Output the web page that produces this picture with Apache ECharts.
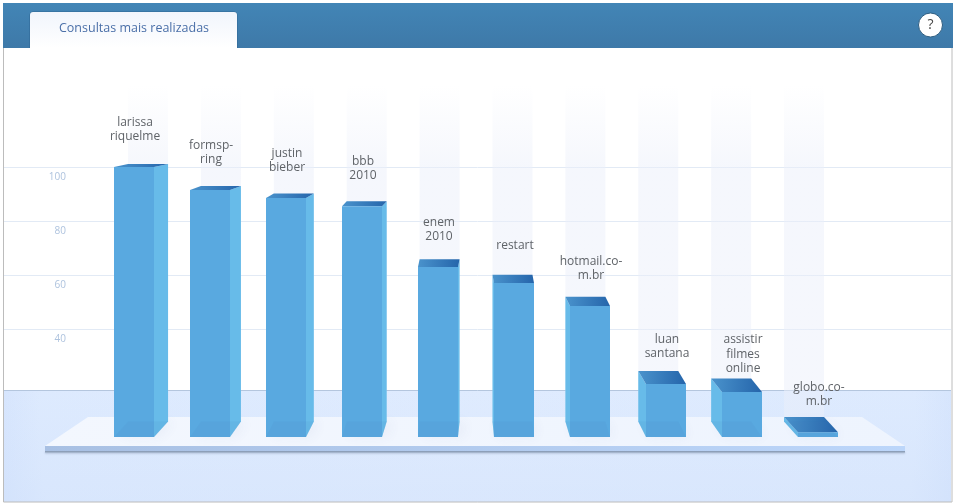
<!DOCTYPE html>
<html>
<head>
<meta charset="utf-8">
<style>html,body{margin:0;padding:0;background:#fff}#c{width:954px;height:503px}</style>
<script src="https://cdn.jsdelivr.net/npm/echarts@6/dist/echarts.min.js"></script>
</head>
<body>
<div id="c"></div>
<script>
const categories = ['larissa\nriquelme','formsp-\nring','justin\nbieber','bbb\n2010','enem\n2010','restart','hotmail.co-\nm.br','luan\nsantana','assistir\nfilmes\nonline','globo.co-\nm.br'];
const values = [100, 91.5, 88.5, 85.5, 63, 57, 48.5, 19.6, 16.7, 1.8];
const title = 'Consultas mais realizadas';
const tickMin = 40, tickMax = 100, tickStep = 20;

const FONT = '"Open Sans", sans-serif';
const chart = echarts.init(document.getElementById('c'), null, {renderer:'canvas'});
const vanishX = 457, xScale = 0.959;
const backX = x => vanishX + (x - vanishX) * xScale;
const depth = y => 3 + (y - 167) * 0.046;
const seriesData = values.map((v, i) => [i, v]);
const lin = (x0,y0,x1,y1,a,b) => new echarts.graphic.LinearGradient(x0,y0,x1,y1,[{offset:0,color:a},{offset:1,color:b}]);

function stripeItem(params, api) {
  const c = api.coord([api.value(0), 0]);
  const w = api.size([1, 0])[0] * 40 / 76;
  const bx = backX(c[0] - w / 2);
  return {type:'rect', shape:{x:bx, y:85, width:w, height:337}, style:{
    fill:new echarts.graphic.LinearGradient(0,0,0,1,[
      {offset:0,color:'rgba(235,239,250,0)'},
      {offset:0.25,color:'rgba(235,239,250,0.5)'},
      {offset:1,color:'rgba(235,239,250,0.5)'}])}};
}
function barItem(params, api) {
  const idx = api.value(0);
  const top = api.coord([idx, api.value(1)]);
  const base = api.coord([idx, 0]);
  const w = api.size([1, 0])[0] * 40 / 76;
  const fx = top[0] - w / 2, y = top[1], by = base[1];
  const bx = backX(fx);
  const ty = y - depth(y), bby = by - depth(by);
  const poly = (pts, fill, extra) => ({type:'polygon', shape:{points:pts}, style:Object.assign({fill}, extra||{})});
  const children = [];
  children.push(poly([[fx,by],[fx+w,by],[bx+w,bby],[bx,bby]], 'rgba(90,130,175,0.12)',
    {shadowColor:'rgba(70,100,140,0.45)', shadowBlur:12, shadowOffsetX:bx>fx?6:3, shadowOffsetY:0}));
  if (bx >= fx) {
    children.push(poly([[fx+w,y],[bx+w,ty],[bx+w,bby],[fx+w,by]], '#67bbe9'));
  } else {
    children.push(poly([[fx,y],[bx,ty],[bx,bby],[fx,by]], '#67bbe9'));
  }
  children.push(poly([[fx,y],[fx+w,y],[bx+w,ty],[bx,ty]], lin(0,0,1,0.3,'#4a93cc','#2565ab')));
  children.push({type:'rect', shape:{x:fx,y:y,width:w,height:by-y}, style:{fill:'#59a9e0'}});
  children.push(poly([[fx,by],[fx+w,by],[bx+w,bby],[bx,bby]], 'rgba(60,120,180,0.08)'));
  children.push({type:'text', style:{text:categories[idx], x:top[0]+1, y:y-37.5, align:'center', verticalAlign:'middle',
    font:'12px '+FONT, lineHeight:14.5, fill:'#5f6368'}});
  return {type:'group', children};
}

chart.setOption({
  animation:false,
  backgroundColor:'#ffffff',
  grid:[
    {left:96, width:760, top:167, height:270},
    {left:4, width:947, top:167, height:162}
  ],
  xAxis:[
    {type:'category', gridIndex:0, data:categories, show:false},
    {type:'value', gridIndex:1, show:false, min:0, max:1}
  ],
  yAxis:[
    {type:'value', gridIndex:0, min:0, max:100, show:false},
    {type:'value', gridIndex:1, min:tickMin, max:tickMax, interval:tickStep,
      axisLine:{show:false}, axisTick:{show:false},
      splitLine:{show:true, lineStyle:{color:'#e2eaf5', width:1}},
      axisLabel:{inside:true, margin:62, align:'right', verticalAlign:'top', padding:[5,0,0,0],
        color:'#aec3de', fontSize:10, fontFamily:FONT}}
  ],
  series:[
    {type:'custom', name:'stripes', xAxisIndex:0, yAxisIndex:0, z:2, silent:true, renderItem:stripeItem, data:seriesData, clip:false},
    {type:'custom', name:'consultas', xAxisIndex:0, yAxisIndex:0, z:4, silent:true, renderItem:barItem, data:seriesData, clip:false}
  ],
  graphic:[
    // floor
    {type:'rect', z:1, shape:{x:4,y:390,width:947,height:112}, style:{
      fill:new echarts.graphic.RadialGradient(0.5,0.3,4.6,[
        {offset:0,color:'#dfebfe'},{offset:0.85,color:'#ddeafe'},{offset:1,color:'#d0e0fc'}])}},
    {type:'rect', z:1, shape:{x:4,y:390,width:947,height:112}, style:{fill:lin(0,0,0,1,'rgba(205,222,250,0)','rgba(205,222,250,0.3)')}},
    {type:'line', z:1, shape:{x1:4,y1:390.5,x2:951,y2:390.5}, style:{stroke:'#b4c6de',lineWidth:1}},
    // platform
    {type:'rect', z:3, shape:{x:45,y:451,width:860,height:1.5}, style:{fill:'#8d9fb8', shadowColor:'rgba(90,110,140,0.4)', shadowBlur:2, shadowOffsetY:1}},
    {type:'rect', z:3, shape:{x:45,y:446,width:860,height:5}, style:{fill:lin(0,0,1,0,'#a8c0e3','#bcd6fa')}},
    {type:'polygon', z:3, shape:{points:[[88,417],[862,417],[905,446],[45,446]]}, style:{fill:lin(0,0,1,0,'#f3f7fe','#eef4fe')}},
    // frame
    {type:'rect', z:8, shape:{x:3.5,y:3.5,width:948.5,height:498.5}, style:{fill:'none',stroke:'#bcbcbc',lineWidth:1}},
    // header
    {type:'rect', z:9, shape:{x:3,y:3,width:950,height:45}, style:{fill:lin(0,0,0,1,'#4285b6','#3e79a8')}},
    {type:'rect', z:9, shape:{x:29.5,y:11.5,width:208,height:36.5,r:[4,4,0,0]}, style:{fill:'#2f6793'}},
    {type:'rect', z:9, shape:{x:30,y:12,width:207,height:36,r:[3,3,0,0]}, style:{fill:lin(0,0,0,1,'#f1f5fc','#ffffff')}},
    {type:'text', z:10, style:{text:title, x:134, y:28.5, align:'center', verticalAlign:'middle', font:'12.5px '+FONT, fill:'#4a6fa8'}},
    {type:'circle', z:10, shape:{cx:930.5,cy:25,r:12}, style:{fill:'#ffffff',stroke:'#2c5c80',lineWidth:1}},
    {type:'text', z:11, style:{text:'?', x:930.5, y:25, align:'center', verticalAlign:'middle', font:'14px '+FONT, fill:'#444'}}
  ]
});
</script>
</body>
</html>
